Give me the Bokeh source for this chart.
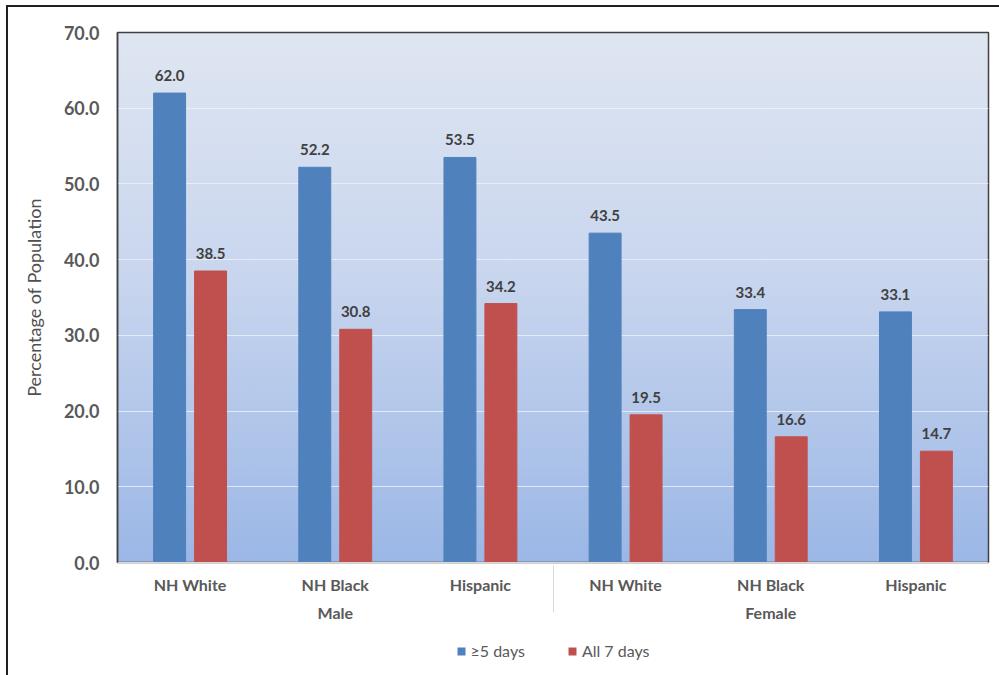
from bokeh.plotting import figure
from bokeh.layouts import column
from bokeh.models import ColumnDataSource, FactorRange, FixedTicker, NumeralTickFormatter, Legend, LegendItem
from bokeh.transform import dodge
from bokeh.core.properties import value
from bokeh.embed import file_html
from bokeh.resources import INLINE

sexes = ["Male", "Female"]
races = ["NH White", "NH Black", "Hispanic"]
ge5_days = [62.0, 52.2, 53.5, 43.5, 33.4, 33.1]
all7_days = [38.5, 30.8, 34.2, 19.5, 16.6, 14.7]
series_names = ["\u22655 days", "All 7 days"]
y_ticks = [0, 10, 20, 30, 40, 50, 60, 70]

factors = [(s, r) for s in sexes for r in races]
src = ColumnDataSource(dict(
    x=factors,
    a=ge5_days,
    b=all7_days,
    a_lab=[f"{v:.1f}" for v in ge5_days],
    b_lab=[f"{v:.1f}" for v in all7_days],
))

FONT = "Lato"
GREY = "#595959"
BLUE = "#4f81bd"
RED = "#c0504d"
W, H = 991, 632
ml, mt, mr, mb = 109, 25, 11, 77

p = figure(x_range=FactorRange(*factors, factor_padding=0, group_padding=0, range_padding=0),
           y_range=(0, 70), width=W, height=H, output_backend="svg", toolbar_location=None,
           min_border_left=ml, min_border_top=mt, min_border_right=mr, min_border_bottom=mb)
p.x_range.range_padding = 0

fw, fh = W - ml - mr, H - mt - mb
p.styles = {
    "background": "linear-gradient(#dfe6f2, #c9d6ee 45%, #9bb7e6) no-repeat",
    "background-position": f"{ml}px {mt}px",
    "background-size": f"{fw}px {fh}px",
}
p.background_fill_color = None
p.border_fill_color = None
p.outline_line_color = "#404040"
p.outline_line_width = 1.5

off = 0.141
bw = 0.22
r1 = p.vbar(x=dodge("x", -off, range=p.x_range), top="a", width=bw, source=src, color=BLUE)
r2 = p.vbar(x=dodge("x", off, range=p.x_range), top="b", width=bw, source=src, color=RED)

for col, lab, o in (("a", "a_lab", -off), ("b", "b_lab", off)):
    p.text(x=dodge("x", o, range=p.x_range), y=col, text=lab, source=src,
           text_font=value(FONT), text_font_style="bold", text_font_size="15px",
           text_color="#404040", text_align="center", text_baseline="bottom", y_offset=-12)

p.yaxis.ticker = FixedTicker(ticks=y_ticks)
p.yaxis.formatter = NumeralTickFormatter(format="0.0")
p.yaxis.major_tick_line_color = None
p.yaxis.minor_tick_line_color = None
p.yaxis.axis_line_color = "#404040"
p.yaxis.axis_line_width = 1.5
p.yaxis.major_label_text_font = FONT
p.yaxis.major_label_text_font_style = "bold"
p.yaxis.major_label_text_font_size = "18px"
p.yaxis.major_label_text_color = GREY
p.yaxis.major_label_standoff = 12
p.yaxis.axis_label = "Percentage of Population"
p.yaxis.axis_label_text_font = FONT
p.yaxis.axis_label_text_font_style = "normal"
p.yaxis.axis_label_text_font_size = "18px"
p.yaxis.axis_label_text_color = "#505050"
p.yaxis.axis_label_standoff = 16

p.xaxis.major_tick_line_color = None
p.xaxis.minor_tick_line_color = None
p.xaxis.axis_line_color = "#d9d9d9"
p.xaxis.major_label_text_font = FONT
p.xaxis.major_label_text_font_style = "bold"
p.xaxis.major_label_text_font_size = "16px"
p.xaxis.major_label_text_line_height = 1.7
p.xaxis.major_label_text_color = GREY
p.xaxis.major_label_standoff = 6
p.xaxis.group_text_font = FONT
p.xaxis.group_text_font_style = "bold"
p.xaxis.group_text_font_size = "16px"
p.xaxis.group_text_color = GREY
p.xaxis.separator_line_color = "#d9d9d9"
p.xaxis.separator_line_width = 1

p.xgrid.grid_line_color = None
p.ygrid.ticker = FixedTicker(ticks=y_ticks)
p.ygrid.grid_line_color = "#eef2fa"
p.ygrid.grid_line_alpha = 0.8

# legend strip below the chart
q = figure(width=W, height=36, output_backend="svg", toolbar_location=None,
           x_range=(0, 1), y_range=(0, 1),
           min_border_left=ml, min_border_right=mr, min_border_top=0, min_border_bottom=0)
q.axis.visible = False
q.grid.grid_line_color = None
q.outline_line_color = None
q.background_fill_color = None
q.border_fill_color = None
# zero-size placeholder glyphs: they only supply the legend swatches
k1 = q.vbar(x=[0.5], top=[0.0], width=0.0, fill_color=BLUE, line_color=None)
k2 = q.vbar(x=[0.5], top=[0.0], width=0.0, fill_color=RED, line_color=None)
legend = Legend(items=[LegendItem(label=series_names[0], renderers=[k1]),
                       LegendItem(label=series_names[1], renderers=[k2])],
                orientation="horizontal", location="top_center",
                label_text_font=FONT, label_text_font_size="16px", label_text_color=GREY,
                glyph_width=10, glyph_height=10, spacing=42, label_standoff=5,
                background_fill_alpha=0, border_line_color=None, padding=0, margin=2)
q.add_layout(legend, "center")

layout = column(p, q, spacing=0)
layout.styles = {
    "margin-left": "6px",
    "margin-top": "5px",
    "border-top": "2px solid #231f20",
    "border-left": "2px solid #231f20",
}

open("out.html", "w").write(file_html(layout, INLINE))
